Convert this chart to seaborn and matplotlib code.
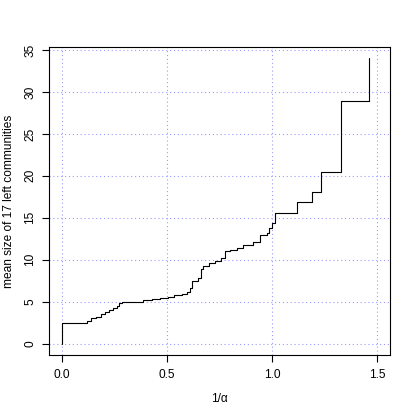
import seaborn as sns
import numpy as np
import pandas as pd
import matplotlib
matplotlib.use('Agg')
import matplotlib.pyplot as plt

# step positions (1/alpha) and mean community size
inv_alpha = [0.0, 0.0, 0.119, 0.138, 0.163, 0.185, 0.206, 0.226, 0.245, 0.261,
             0.274, 0.285, 0.388, 0.428, 0.467, 0.507, 0.535, 0.570, 0.594,
             0.610, 0.618, 0.648, 0.662, 0.673, 0.702, 0.729, 0.756, 0.776,
             0.800, 0.835, 0.863, 0.887, 0.911, 0.942, 0.975, 0.985, 0.998,
             1.014, 1.117, 1.188, 1.232, 1.327, 1.462]
mean_size = [0.0, 2.5, 2.7, 3.0, 3.2, 3.5, 3.8, 4.0, 4.3, 4.5,
             4.8, 5.0, 5.2, 5.3, 5.4, 5.6, 5.8, 5.9, 6.2,
             6.6, 7.5, 7.8, 8.85, 9.2, 9.6, 9.8, 10.2, 11.0,
             11.2, 11.4, 11.7, 11.8, 12.1, 12.95, 13.2, 13.75, 14.35,
             15.55, 16.9, 18.05, 20.45, 28.95, 34.0]

x_ticks = [0.0, 0.5, 1.0, 1.5]
y_ticks = [0, 5, 10, 15, 20, 25, 30, 35]

df = pd.DataFrame({'inv_alpha': inv_alpha, 'mean_size': mean_size})

sns.set_style('white')
plt.rcParams['font.family'] = ['Liberation Sans', 'DejaVu Sans']
plt.rcParams['text.color'] = 'black'
plt.rcParams['xtick.color'] = 'black'
plt.rcParams['ytick.color'] = 'black'
plt.rcParams['axes.labelcolor'] = 'black'

fig = plt.figure(figsize=(4.15, 4.15), dpi=100)
W = H = 415
ax = fig.add_axes([49 / W, (H - 355) / H, (390 - 49) / W, (355 - 47) / H])

sns.lineplot(data=df, x='inv_alpha', y='mean_size', ax=ax, sort=False,
             estimator=None, drawstyle='steps-post', color='black', lw=0.8)

ax.set_xlim(-0.06, 1.56)
ax.set_ylim(-1.36, 35.36)
ax.set_xticks(x_ticks)
ax.set_xticklabels(['0.0', '0.5', '1.0', '1.5'])
ax.set_yticks(y_ticks)
ax.grid(True, color='#9a9aff', linestyle=(0, (1, 2.5)), linewidth=0.8)

for s in ax.spines.values():
    s.set_color('black')
    s.set_linewidth(0.8)

ax.tick_params(axis='both', direction='out', length=5, width=0.8,
               color='black', labelsize=8.6, bottom=True, left=True)
ax.tick_params(axis='x', pad=5)
ax.tick_params(axis='y', pad=4, labelrotation=90)
for t in ax.get_yticklabels():
    t.set_va('center')

ax.set_xlabel('1/\u03b1', fontsize=8.6)
ax.set_ylabel('mean size of 17 left communities', fontsize=8.6)
ax.xaxis.set_label_coords(0.5, -0.122)
ax.yaxis.set_label_coords(-0.1, 0.5)

fig.savefig('out.png', dpi=100)
